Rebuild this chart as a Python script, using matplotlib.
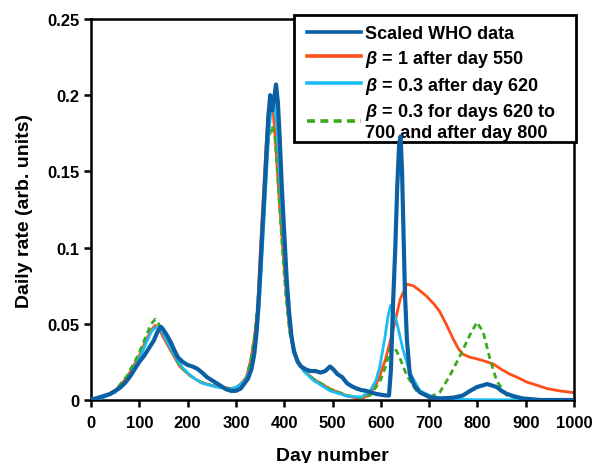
import matplotlib
matplotlib.use('Agg')
import matplotlib.pyplot as plt
from matplotlib.patches import Rectangle

plt.rcParams['font.family'] = ['Liberation Sans', 'DejaVu Sans']
plt.rcParams['font.weight'] = 'bold'
plt.rcParams['mathtext.fontset'] = 'custom'
plt.rcParams['mathtext.it'] = 'Liberation Sans:bold:italic'
plt.rcParams['mathtext.rm'] = 'Liberation Sans:bold'

# scaled WHO data
who_days = [0, 10, 20, 30, 40, 50, 60, 70, 80, 90, 100, 110, 120, 130, 138, 145, 150, 158,
            165, 172, 180, 190, 200, 210, 220, 230, 240, 250, 260, 270, 280, 290, 300, 310,
            318, 325, 332, 338, 343, 348, 353, 358, 363, 367, 371, 375, 379, 383, 387, 391,
            395, 400, 405, 410, 415, 420, 428, 435, 445, 455, 465, 475, 485, 495, 502, 510,
            520, 530, 540, 550, 560, 570, 580, 590, 600, 610, 617, 621, 625, 630, 634, 638,
            641, 644, 647, 650, 654, 660, 670, 681, 700, 722, 750, 770, 785, 799, 810, 820,
            830, 840, 850, 861, 875, 894, 920, 930, 1000]
who_rate = [0.0005, 0.001, 0.002, 0.003, 0.004, 0.006, 0.008, 0.011, 0.015, 0.02, 0.025,
            0.029, 0.034, 0.039, 0.045, 0.048, 0.046, 0.042, 0.038, 0.033, 0.028, 0.025,
            0.023, 0.022, 0.0205, 0.018, 0.015, 0.013, 0.011, 0.009, 0.007, 0.006, 0.006,
            0.0075, 0.011, 0.014, 0.02, 0.03, 0.045, 0.07, 0.10, 0.13, 0.16, 0.185, 0.20,
            0.19, 0.197, 0.207, 0.195, 0.17, 0.14, 0.11, 0.08, 0.058, 0.042, 0.032, 0.025,
            0.022, 0.020, 0.019, 0.019, 0.018, 0.019, 0.022, 0.02, 0.017, 0.015, 0.011,
            0.009, 0.0075, 0.0065, 0.006, 0.005, 0.004, 0.0035, 0.003, 0.003, 0.02, 0.06,
            0.1, 0.14, 0.168, 0.173, 0.15, 0.11, 0.07, 0.04, 0.017, 0.009, 0.005, 0.002,
            0.001, 0.0015, 0.003, 0.006, 0.0085, 0.0095, 0.0105, 0.0095, 0.0085, 0.006,
            0.004, 0.0025, 0.001, 0.0003, 0.0, 0.0]

# beta = 1 after day 550
b1_days = [0, 25, 50, 75, 100, 115, 125, 133, 140, 150, 164, 184, 205, 226, 250, 270, 288,
           300, 310, 322, 330, 338, 345, 350, 356, 362, 367, 372, 377, 383, 390, 397, 404,
           412, 420, 433, 460, 495, 530, 550, 565, 578, 590, 598, 610, 619, 630, 640, 654,
           667, 680, 695, 710, 722, 735, 750, 760, 770, 785, 799, 815, 833, 850, 867, 885,
           902, 925, 944, 970, 1000]
b1_rate = [0.0, 0.002, 0.006, 0.015, 0.029, 0.04, 0.046, 0.049, 0.047, 0.041, 0.033, 0.022,
           0.016, 0.0118, 0.0095, 0.0085, 0.0075, 0.008, 0.0105, 0.015, 0.025, 0.04, 0.06,
           0.095, 0.13, 0.165, 0.19, 0.197, 0.19, 0.165, 0.13, 0.10, 0.07, 0.045, 0.033,
           0.022, 0.0138, 0.0072, 0.0028, 0.0012, 0.0015, 0.005, 0.01, 0.016, 0.027, 0.038,
           0.052, 0.066, 0.076, 0.075, 0.072, 0.068, 0.063, 0.058, 0.05, 0.040, 0.034,
           0.030, 0.028, 0.027, 0.0255, 0.0236, 0.020, 0.017, 0.0145, 0.0118, 0.0095,
           0.0075, 0.006, 0.0048]

# beta = 0.3 after day 620
b2_days = [0, 25, 50, 75, 100, 115, 125, 135, 145, 155, 170, 190, 210, 230, 260, 288, 305,
           320, 330, 340, 348, 355, 362, 368, 374, 379, 385, 392, 400, 407, 415, 425, 440,
           460, 495, 530, 560, 578, 590, 598, 608, 615, 620, 626, 633, 646, 660, 681, 708,
           750, 800, 1000]
b2_rate = [0.0, 0.0015, 0.005, 0.013, 0.027, 0.038, 0.045, 0.048, 0.046, 0.040, 0.031,
           0.021, 0.015, 0.011, 0.0085, 0.007, 0.009, 0.013, 0.02, 0.035, 0.06, 0.10, 0.14,
           0.175, 0.193, 0.195, 0.18, 0.14, 0.10, 0.065, 0.042, 0.028, 0.019, 0.013, 0.006,
           0.0025, 0.002, 0.006, 0.013, 0.022, 0.04, 0.055, 0.062, 0.058, 0.051, 0.033,
           0.018, 0.006, 0.002, 0.0005, 0.0002, 0.0]

# beta = 0.3 for days 620 to 700 and after day 800
b3_days = [0, 25, 50, 75, 100, 115, 125, 133, 140, 150, 164, 184, 205, 226, 250, 270, 288,
           300, 310, 322, 332, 340, 348, 355, 362, 368, 375, 381, 388, 395, 403, 411, 420,
           433, 460, 495, 530, 560, 578, 598, 610, 619, 626, 633, 640, 654, 674, 702, 722,
           743, 764, 785, 799, 812, 826, 840, 861, 889, 920, 1000]
b3_rate = [0.0, 0.002, 0.006, 0.016, 0.031, 0.043, 0.05, 0.053, 0.05, 0.043, 0.034, 0.022,
           0.016, 0.012, 0.0095, 0.0085, 0.0075, 0.008, 0.0105, 0.015, 0.028, 0.045, 0.075,
           0.11, 0.15, 0.172, 0.18, 0.172, 0.14, 0.105, 0.07, 0.045, 0.032, 0.022, 0.014,
           0.0072, 0.003, 0.0015, 0.003, 0.012, 0.022, 0.033, 0.035, 0.032, 0.027, 0.016,
           0.006, 0.002, 0.005, 0.016, 0.029, 0.043, 0.051, 0.0446, 0.027, 0.0125, 0.003,
           0.0005, 0.0, 0.0]

labels = ['Scaled WHO data',
          r'$\beta$ = 1 after day 550',
          r'$\beta$ = 0.3 after day 620',
          '$\\beta$ = 0.3 for days 620 to\n700 and after day 800']

fig = plt.figure(figsize=(5.94, 4.64), dpi=100)
ax = fig.add_axes([91 / 594, 1 - 401 / 464, 483 / 594, 381 / 464])

l_b1, = ax.plot(b1_days, b1_rate, color='#ff4e18', lw=2.0, zorder=2)
l_b3, = ax.plot(b3_days, b3_rate, color='#3aaa1e', lw=2.0, ls=(0, (2.2, 1.5)), zorder=3)
l_b2, = ax.plot(b2_days, b2_rate, color='#1bbcf2', lw=2.0, zorder=4)
l_who, = ax.plot(who_days, who_rate, color='#0c5fa3', lw=3.0, zorder=7)

ax.set_xlim(0, 1000)
ax.set_ylim(0, 0.25)
ax.set_xticks(range(0, 1001, 100))
ax.set_yticks([0, 0.05, 0.1, 0.15, 0.2, 0.25])
ax.set_yticklabels(['0', '0.05', '0.1', '0.15', '0.2', '0.25'])
ax.tick_params(axis='both', labelsize=12, width=1.8, length=5, direction='out')
ax.tick_params(axis='x', pad=6)
for s in ax.spines.values():
    s.set_linewidth(1.8)

ax.set_xlabel('Day number', fontsize=14, fontweight='bold', labelpad=12)
ax.set_ylabel('Daily rate (arb. units)', fontsize=14, fontweight='bold', labelpad=10)

# legend box drawn separately so the padding matches the original
box = Rectangle((294 / 594, 1 - 143 / 464), 282 / 594, 127 / 464,
                transform=fig.transFigure, facecolor='white', edgecolor='black',
                lw=2, clip_on=False, zorder=5.5)
ax.add_patch(box)

leg = ax.legend([l_who, l_b1, l_b2, l_b3], labels, loc='upper left',
                bbox_to_anchor=(307 / 594, 1 - 26 / 464), bbox_transform=fig.transFigure,
                fontsize=13, frameon=False,
                handlelength=3.0, handletextpad=0.2, labelspacing=0.32,
                borderpad=0, borderaxespad=0)
leg.set_zorder(6)
for t in leg.get_texts():
    t.set_fontweight('bold')
    t.set_linespacing(1.12)
for h in leg.legend_handles:
    h.set_linewidth(2.6)

fig.savefig('out.png', dpi=100)
